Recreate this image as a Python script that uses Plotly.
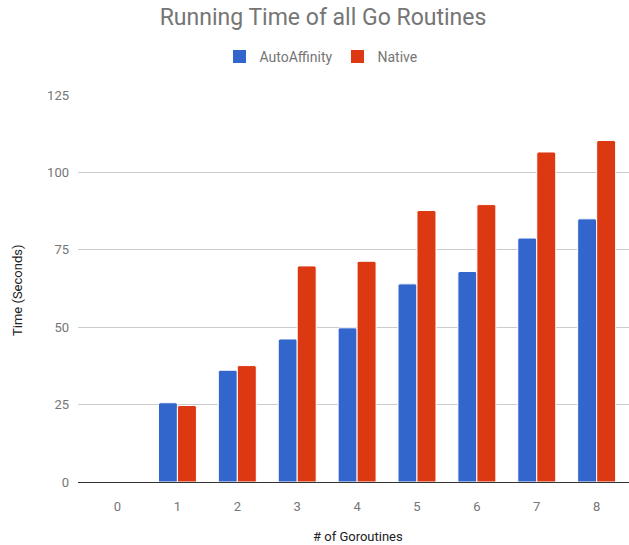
import plotly.graph_objects as go

# Goroutine counts on the x axis and running times (seconds) per scheduler
goroutines = ["0", "1", "2", "3", "4", "5", "6", "7", "8"]
auto_affinity = [None, 25.6, 36.1, 46.2, 49.8, 64.0, 68.0, 78.8, 85.0]
native = [None, 24.7, 37.6, 69.8, 71.3, 87.7, 89.6, 106.6, 110.3]
y_ticks = [0, 25, 50, 75, 100, 125]

series = [("AutoAffinity", auto_affinity, "#3366cc"),
          ("Native", native, "#dc3912")]

W, H = 629, 545
ML, MR, MT, MB = 78, 0, 95, 63
PW, PH = W - ML - MR, H - MT - MB

FONT = "Roboto, Arial, sans-serif"
GREY = "#757575"

fig = go.Figure()
for name, values, color in series:
    fig.add_trace(go.Bar(
        name=name, x=goroutines, y=values, showlegend=False,
        marker=dict(color=color, line=dict(color="white", width=1), cornerradius=2),
    ))
# square swatches for the legend
for name, values, color in series:
    fig.add_trace(go.Scatter(
        name=name, x=[None], y=[None], mode="markers",
        marker=dict(symbol="square", size=13, color=color, line=dict(width=0)),
        hoverinfo="skip",
    ))

fig.update_layout(
    width=W, height=H,
    margin=dict(l=ML, r=MR, t=MT, b=MB, pad=0),
    paper_bgcolor="white", plot_bgcolor="white",
    font=dict(family=FONT, size=13, color=GREY),
    barmode="group", bargap=0.366, bargroupgap=0,
    title=dict(
        text="Running Time of all Go Routines",
        font=dict(family=FONT, size=23, color=GREY),
        x=323 / W, xanchor="center", xref="container",
        y=1 - 17 / H, yanchor="middle", yref="container",
    ),
    legend=dict(
        orientation="h", x=(321 - ML) / PW, xanchor="center",
        y=(H - MB - 57) / PH, yanchor="middle",
        font=dict(family=FONT, size=14, color=GREY),
        itemwidth=30, traceorder="normal",
    ),
    showlegend=True,
    xaxis=dict(
        type="category", range=[-0.66, 8.54],
        showgrid=False, showline=True, linecolor="#333333", linewidth=1,
        ticks="", ticklabelstandoff=12,
        tickfont=dict(family=FONT, size=13, color=GREY),
        zeroline=False,
    ),
    yaxis=dict(
        range=[0, 125], tickvals=y_ticks,
        showgrid=True, gridcolor="#cccccc", gridwidth=1,
        zeroline=False, showline=False,
        ticks="", ticklabelstandoff=8,
        tickfont=dict(family=FONT, size=13, color=GREY),
    ),
    annotations=[
        dict(text="# of Goroutines", xref="paper", yref="paper",
             x=(358 - ML) / PW, y=-(536 - (H - MB)) / PH,
             xanchor="center", yanchor="middle", showarrow=False,
             font=dict(family=FONT, size=13, color="#222222")),
        dict(text="Time (Seconds)", xref="paper", yref="paper",
             x=-(ML - 17) / PW, y=(H - MB - 291) / PH, textangle=-90,
             xanchor="center", yanchor="middle", showarrow=False,
             font=dict(family=FONT, size=13, color="#222222")),
    ],
)

fig.write_html("out.html")
